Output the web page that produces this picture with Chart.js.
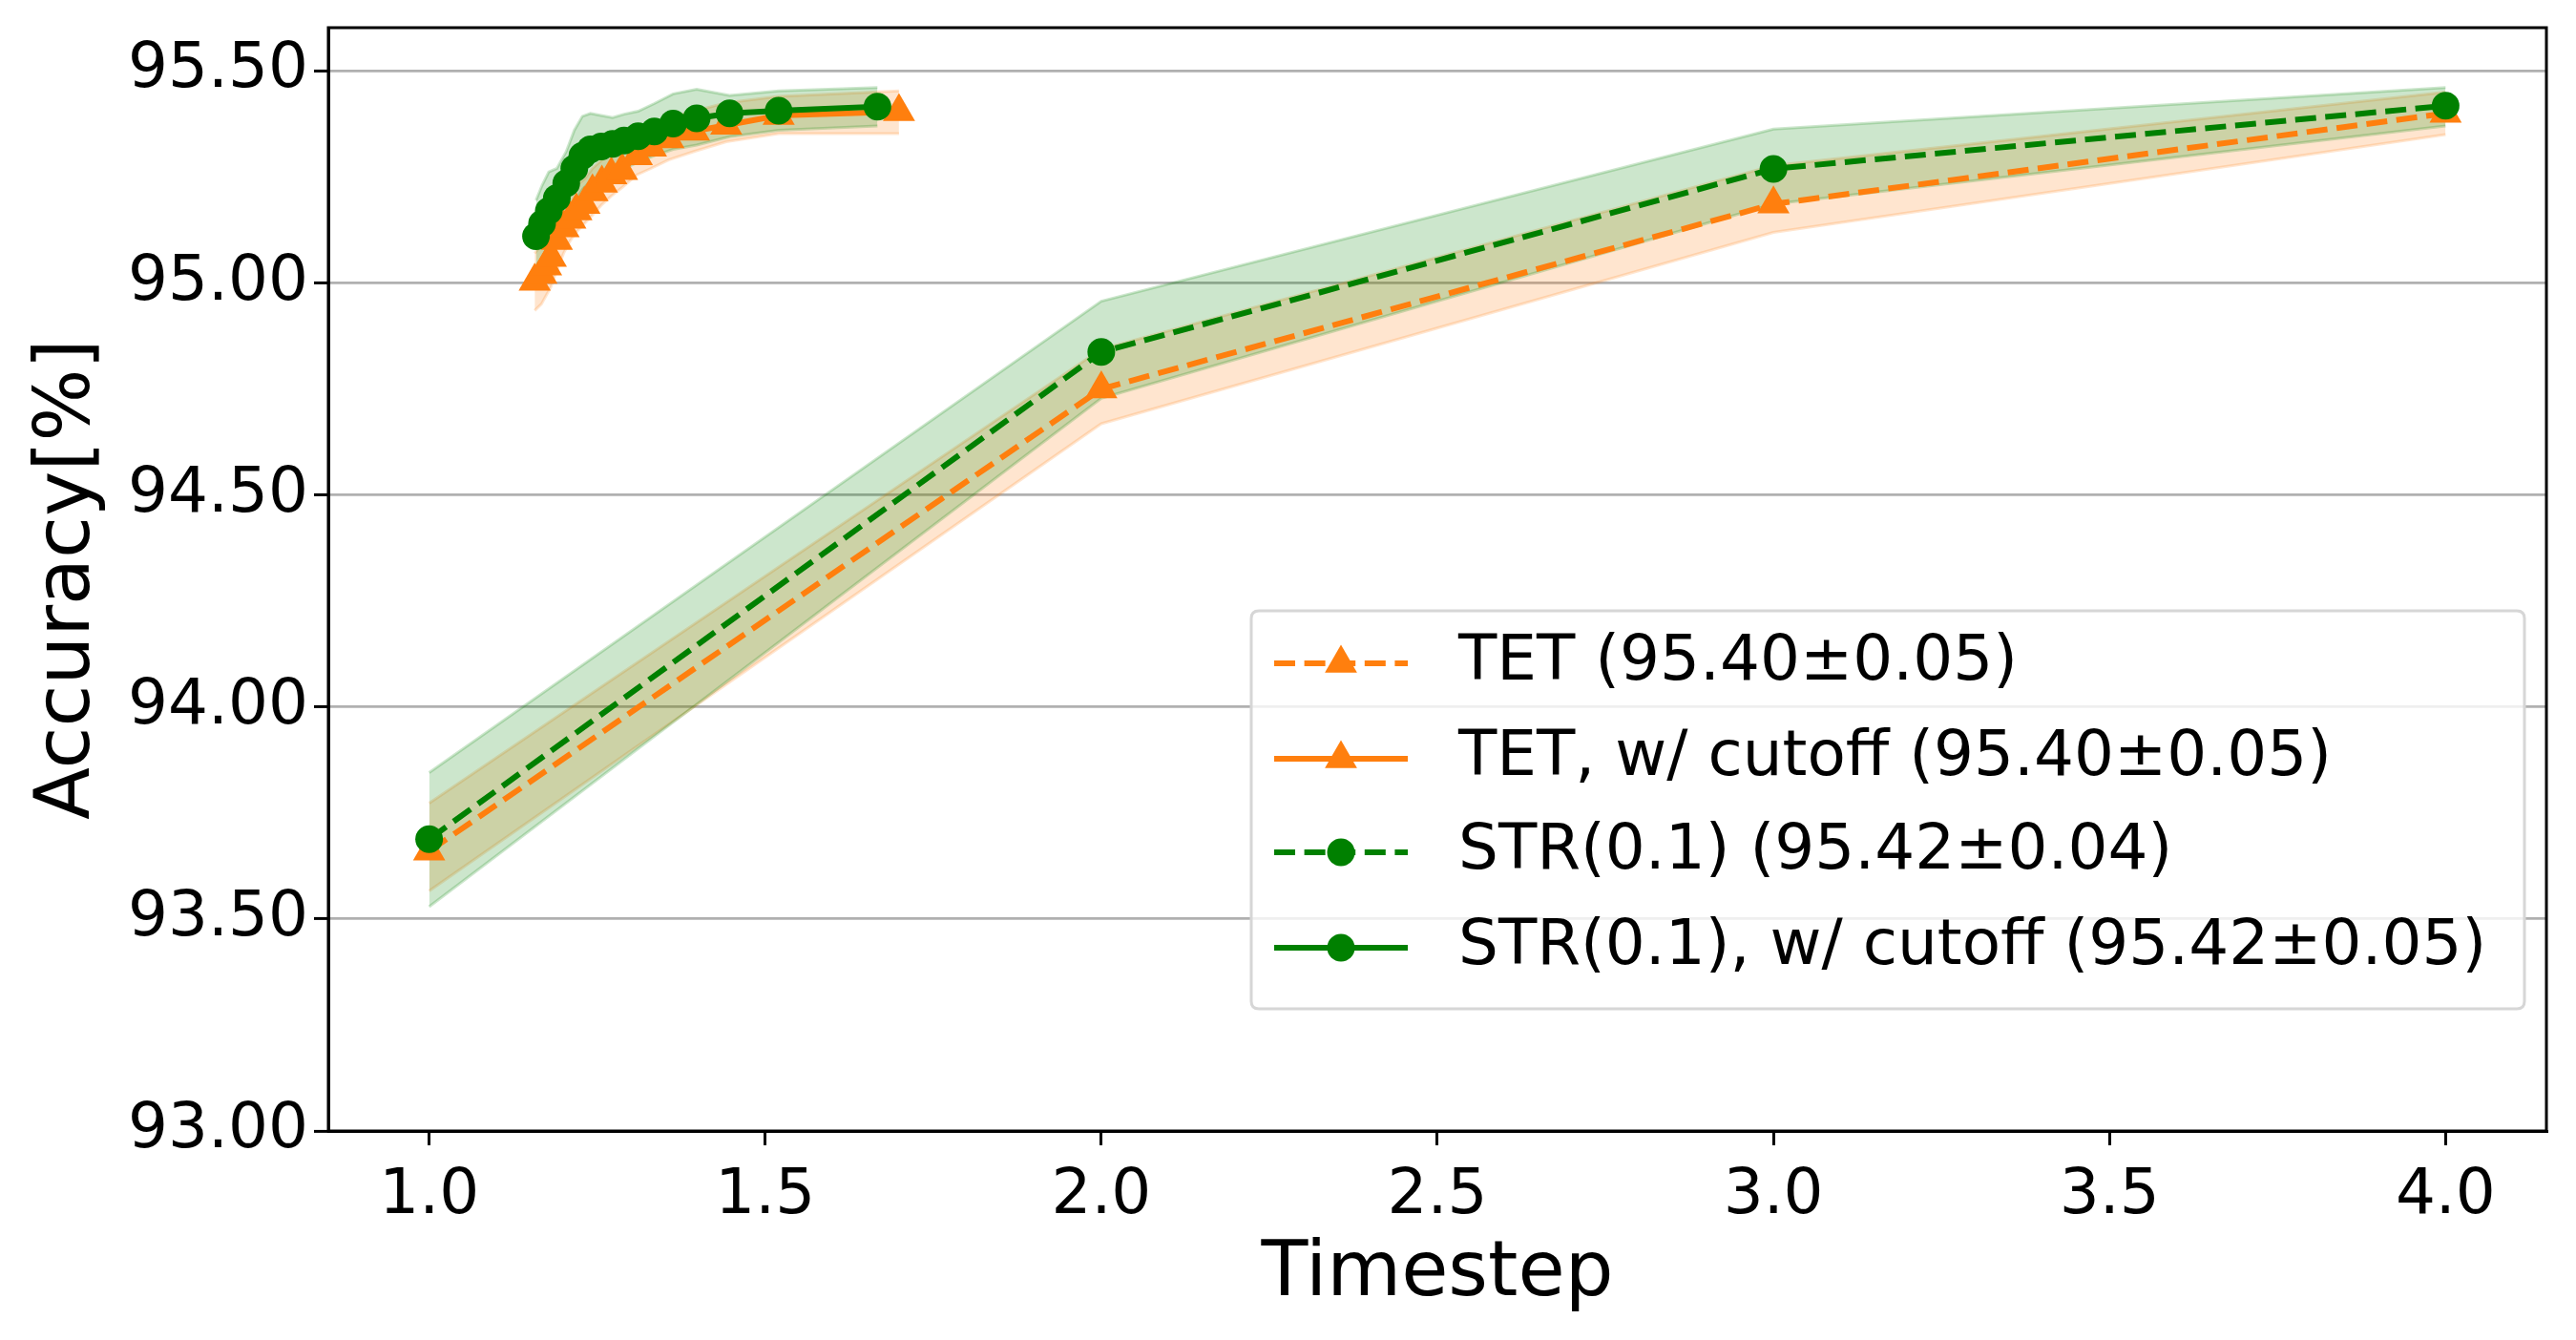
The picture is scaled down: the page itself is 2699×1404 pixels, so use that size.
<!DOCTYPE html>
<html><head><meta charset="utf-8">
<script src="https://cdn.jsdelivr.net/npm/chart.js@4.4.1/dist/chart.umd.min.js"></script>
<style>html,body{margin:0;padding:0;background:#fff;}canvas{display:block;}</style>
</head><body>
<canvas id="c" width="2699" height="1404"></canvas>
<script>
// ---- tick labels ----
const xTicks = [1.0, 1.5, 2.0, 2.5, 3.0, 3.5, 4.0];
const yTicks = [93.0, 93.5, 94.0, 94.5, 95.0, 95.5];

// ---- legend labels ----
const labels = [
  'TET (95.40\u00b10.05)',
  'TET, w/ cutoff (95.40\u00b10.05)',
  'STR(0.1) (95.42\u00b10.04)',
  'STR(0.1), w/ cutoff (95.42\u00b10.05)'
];

// ---- TET (no cutoff) ----
const tetX    = [1, 2, 3, 4];
const tetMean = [93.66, 94.75, 95.186, 95.40];
const tetLo   = [93.566, 94.668, 95.119, 95.35];
const tetHi   = [93.773, 94.844, 95.277, 95.45];

// ---- STR(0.1) (no cutoff) ----
const strX    = [1, 2, 3, 4];
const strMean = [93.688, 94.837, 95.269, 95.418];
const strLo   = [93.529, 94.728, 95.186, 95.37];
const strHi   = [93.845, 94.957, 95.363, 95.461];

// ---- TET, w/ cutoff ----
const tetCutX    = [1.157, 1.167, 1.174, 1.181, 1.190, 1.200, 1.210, 1.219, 1.231, 1.243, 1.257, 1.271, 1.287, 1.309, 1.330, 1.356, 1.394, 1.442, 1.520, 1.699];
const tetCutMean = [95.004, 95.02, 95.04, 95.06, 95.10, 95.13, 95.15, 95.17, 95.185, 95.215, 95.235, 95.255, 95.265, 95.30, 95.32, 95.34, 95.358, 95.372, 95.395, 95.404];
const tetCutLo   = [94.935, 94.95, 94.97, 94.99, 95.03, 95.07, 95.10, 95.12, 95.14, 95.16, 95.185, 95.205, 95.225, 95.255, 95.27, 95.29, 95.31, 95.333, 95.352, 95.352];
const tetCutHi   = [95.07, 95.09, 95.11, 95.13, 95.16, 95.19, 95.21, 95.23, 95.245, 95.27, 95.29, 95.305, 95.32, 95.345, 95.37, 95.39, 95.405, 95.425, 95.44, 95.453];

// ---- STR(0.1), w/ cutoff ----
const strCutX    = [1.159, 1.168, 1.178, 1.190, 1.204, 1.216, 1.228, 1.240, 1.256, 1.273, 1.290, 1.311, 1.335, 1.363, 1.398, 1.447, 1.520, 1.667];
const strCutMean = [95.11, 95.14, 95.17, 95.20, 95.235, 95.27, 95.30, 95.315, 95.322, 95.328, 95.336, 95.346, 95.357, 95.376, 95.388, 95.400, 95.406, 95.416];
const strCutLo   = [95.04, 95.06, 95.09, 95.13, 95.16, 95.19, 95.22, 95.24, 95.25, 95.26, 95.27, 95.285, 95.30, 95.315, 95.325, 95.345, 95.36, 95.37];
const strCutHi   = [95.195, 95.23, 95.262, 95.27, 95.31, 95.36, 95.393, 95.40, 95.395, 95.39, 95.398, 95.405, 95.423, 95.446, 95.457, 95.442, 95.453, 95.461];

const ORANGE = '#ff7f0e', GREEN = '#008000';
const ORANGE_A = 'rgba(255,127,14,0.2)', GREEN_A = 'rgba(0,128,0,0.2)';
const FONT = "'DejaVu Sans', sans-serif";
const LW = 6, DASH = [22, 9.6];

const pts = (xs, ys) => xs.map((x, i) => ({x: x, y: ys[i]}));

function band(xs, lo, hi, edge, face, order) {
  return [
    {label: '_hi', data: pts(xs, hi), borderColor: edge, borderWidth: 3, pointRadius: 0, fill: false, order: order},
    {label: '_lo', data: pts(xs, lo), borderColor: edge, borderWidth: 3, pointRadius: 0, fill: '-1', backgroundColor: face, order: order}
  ];
}
function line(label, xs, ys, color, dashed, style, order) {
  return {
    label: label, data: pts(xs, ys), borderColor: color, backgroundColor: color,
    borderWidth: LW, borderDash: dashed ? DASH : [], fill: false,
    pointStyle: style, pointRadius: style === 'triangle' ? 19.5 : 14.5,
    pointBackgroundColor: color, pointBorderColor: color, pointBorderWidth: 0,
    order: order
  };
}

const datasets = [].concat(
  band(tetX, tetLo, tetHi, ORANGE_A, ORANGE_A, 40),
  band(tetCutX, tetCutLo, tetCutHi, ORANGE_A, ORANGE_A, 39),
  band(strX, strLo, strHi, GREEN_A, GREEN_A, 38),
  band(strCutX, strCutLo, strCutHi, GREEN_A, GREEN_A, 37),
  [
    line(labels[0], tetX, tetMean, ORANGE, true, 'triangle', 4),
    line(labels[1], tetCutX, tetCutMean, ORANGE, false, 'triangle', 3),
    line(labels[2], strX, strMean, GREEN, true, 'circle', 2),
    line(labels[3], strCutX, strCutMean, GREEN, false, 'circle', 1)
  ]
);

const legendItems = [
  {text: labels[0], color: ORANGE, dashed: true, marker: 'triangle'},
  {text: labels[1], color: ORANGE, dashed: false, marker: 'triangle'},
  {text: labels[2], color: GREEN, dashed: true, marker: 'circle'},
  {text: labels[3], color: GREEN, dashed: false, marker: 'circle'}
];

function drawMarker(ctx, style, x, y, color) {
  ctx.save();
  ctx.fillStyle = color;
  ctx.beginPath();
  if (style === 'circle') {
    ctx.arc(x, y, 14.5, 0, Math.PI * 2);
  } else {
    const r = 19.5;
    let a = 0;
    ctx.moveTo(x + Math.sin(a) * r, y - Math.cos(a) * r);
    a += 2 * Math.PI / 3;
    ctx.lineTo(x + Math.sin(a) * r, y - Math.cos(a) * r);
    a += 2 * Math.PI / 3;
    ctx.lineTo(x + Math.sin(a) * r, y - Math.cos(a) * r);
    ctx.closePath();
  }
  ctx.fill();
  ctx.restore();
}

function roundRect(ctx, x, y, w, h, r) {
  ctx.beginPath();
  ctx.moveTo(x + r, y);
  ctx.lineTo(x + w - r, y);
  ctx.quadraticCurveTo(x + w, y, x + w, y + r);
  ctx.lineTo(x + w, y + h - r);
  ctx.quadraticCurveTo(x + w, y + h, x + w - r, y + h);
  ctx.lineTo(x + r, y + h);
  ctx.quadraticCurveTo(x, y + h, x, y + h - r);
  ctx.lineTo(x, y + r);
  ctx.quadraticCurveTo(x, y, x + r, y);
  ctx.closePath();
}

const framePlugin = {
  id: 'frameAndLegend',
  afterDraw(chart) {
    const ctx = chart.ctx, a = chart.chartArea;
    ctx.save();
    ctx.strokeStyle = '#000';
    ctx.lineWidth = 3;
    ctx.strokeRect(a.left, a.top, a.right - a.left, a.bottom - a.top);

    // legend box
    const lx = a.right - 1357, ly = a.top + 611, lw = 1334, lh = 417;
    roundRect(ctx, lx, ly, lw, lh, 8);
    ctx.fillStyle = 'rgba(255,255,255,0.8)';
    ctx.fill();
    ctx.strokeStyle = '#d6d6d6';
    ctx.lineWidth = 3;
    ctx.stroke();

    const rowY = [55, 155, 253, 353];
    ctx.font = '66px ' + FONT;
    ctx.textBaseline = 'middle';
    ctx.textAlign = 'left';
    legendItems.forEach((it, i) => {
      const y = ly + rowY[i];
      ctx.save();
      ctx.strokeStyle = it.color;
      ctx.lineWidth = LW;
      ctx.setLineDash(it.dashed ? DASH : []);
      ctx.beginPath();
      ctx.moveTo(lx + 24, y);
      ctx.lineTo(lx + 164, y);
      ctx.stroke();
      ctx.restore();
      drawMarker(ctx, it.marker, lx + 94, y, it.color);
      ctx.fillStyle = '#000';
      ctx.fillText(it.text, lx + 217, y);
    });
    ctx.restore();
  }
};

new Chart(document.getElementById('c'), {
  type: 'line',
  data: {datasets: datasets},
  plugins: [framePlugin],
  options: {
    responsive: false,
    animation: false,
    devicePixelRatio: 1,
    layout: {padding: {top: 29, right: 31, left: 0, bottom: 0}},
    plugins: {legend: {display: false}, tooltip: {enabled: false}, filler: {propagate: false}},
    elements: {line: {tension: 0}},
    scales: {
      x: {
        type: 'linear', min: 0.85, max: 4.15,
        afterFit: s => { s.height = 219; s.paddingLeft = 0; s.paddingRight = 0; },
        afterBuildTicks: s => { s.ticks = xTicks.map(v => ({value: v})); },
        grid: {drawOnChartArea: false, color: '#000', lineWidth: 3, tickLength: 15},
        border: {display: true, color: '#000', width: 3},
        ticks: {color: '#000', font: {family: FONT, size: 66}, padding: 14,
                maxRotation: 0, autoSkip: false,
                callback: v => Number(v).toFixed(1)},
        title: {display: true, text: 'Timestep', color: '#000',
                font: {family: FONT, size: 80}, padding: {top: 0, bottom: 20}}
      },
      y: {
        type: 'linear', min: 93.0, max: 95.602,
        afterFit: s => { s.width = 344; s.paddingTop = 0; s.paddingBottom = 0; },
        afterBuildTicks: s => { s.ticks = yTicks.map(v => ({value: v})); },
        grid: {color: '#b0b0b0', lineWidth: 2.8, tickLength: 15, tickColor: '#000', tickWidth: 3},
        border: {display: true, color: '#000', width: 3},
        ticks: {color: '#000', font: {family: FONT, size: 66}, padding: 6,
                autoSkip: false, callback: v => Number(v).toFixed(2)},
        title: {display: true, text: 'Accuracy[%]', color: '#000',
                font: {family: FONT, size: 80}, padding: {top: 24, bottom: 0}}
      }
    }
  }
});
</script>
</body></html>
